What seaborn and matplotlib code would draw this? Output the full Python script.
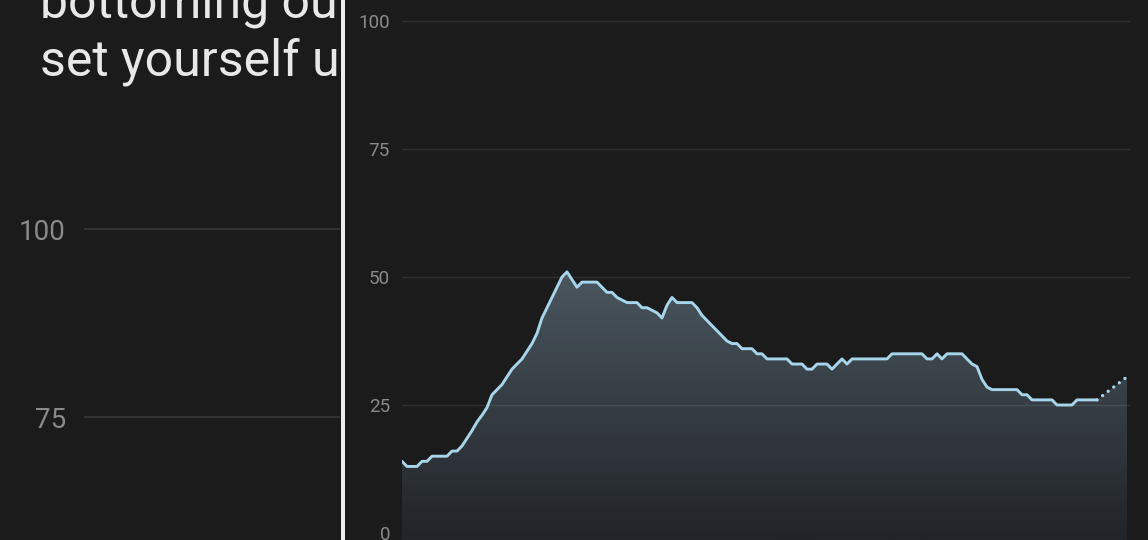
import matplotlib
matplotlib.use("Agg")
import numpy as np
import pandas as pd
import matplotlib.pyplot as plt
from matplotlib.patches import Rectangle
from matplotlib.colors import LinearSegmentedColormap
import seaborn as sns

# ---- data -------------------------------------------------------------
# daily readings (one value per day)
values = [14, 13, 13, 13, 14, 14, 15, 15, 15, 15, 16, 16, 17,
          18.5, 20, 21.7, 23, 24.5, 27, 28, 29, 30.5, 32, 33, 34, 35.5, 37,
          39, 42, 44, 46, 48, 50, 51,
          49.5, 48, 49, 49, 49, 49, 48, 47, 47, 46, 45.5, 45, 45, 45, 44, 44,
          43.5, 43, 42,
          44.5, 46, 45, 45, 45, 45, 44, 42.5, 41.5, 40.5, 39.5, 38.5, 37.5, 37, 37,
          36, 36, 36, 35, 35, 34, 34, 34, 34, 34,
          33, 33, 33, 32, 32, 33, 33, 33, 32, 33, 34, 33, 34, 34, 34, 34, 34, 34,
          34, 34,
          35, 35, 35, 35, 35, 35, 35, 34, 34, 35, 34, 35, 35, 35, 35,
          34, 33, 32.5, 30, 28.5, 28, 28, 28, 28, 28, 28, 27, 27, 26, 26, 26, 26,
          26, 25, 25, 25, 25, 26, 26, 26, 26, 26]
# projected value at the end of the period
projection_day = 145
projection_value = 30.5

right_ticks = [0, 25, 50, 75, 100]
left_ticks = [75, 100]
title_lines = ["bottoming out", "set yourself up"]

# ---- style ------------------------------------------------------------
BG = "#1b1b1b"
LINE = "#a6d5ec"
TICK = "#8a8a8a"

sns.set_theme(style="dark", rc={
    "figure.facecolor": BG,
    "axes.facecolor": BG,
    "savefig.facecolor": BG,
})
plt.rcParams["font.family"] = ["Roboto", "DejaVu Sans"]

W, H = 1148, 540
fig = plt.figure(figsize=(W / 100, H / 100), dpi=100)

def fx(px):
    return px / W

# ---- left (background) panel ------------------------------------------
axl = fig.add_axes([fx(84), 0, fx(340 - 84), 1])
axl.set_facecolor("none")
axl.set_xlim(0, 1)
axl.set_ylim(100 - (540 - 229) / 188 * 25, 100 + 229 / 188 * 25)
axl.set_yticks(left_ticks)
axl.set_yticklabels([str(t) for t in left_ticks])
axl.set_xticks([])
axl.tick_params(axis="y", length=0, pad=13, labelsize=20, labelcolor=TICK)
axl.grid(axis="y", color="#363636", linewidth=1.3)
axl.grid(axis="x", visible=False)
for s in axl.spines.values():
    s.set_visible(False)

for line_text, base_px in zip(title_lines, [18, 76]):
    fig.text(fx(40), 1 - base_px / H, line_text, fontsize=36, fontweight="normal",
             color="#e8e8e8", va="baseline", ha="left", zorder=-3)

# backing of the foreground panel and its white edge
fig.add_artist(Rectangle((fx(345), 0), fx(W - 345), 1, transform=fig.transFigure,
                         facecolor=BG, edgecolor="none", zorder=-2))
fig.add_artist(Rectangle((fx(341), 0), fx(4), 1, transform=fig.transFigure,
                         facecolor="#ededed", edgecolor="none", zorder=5))

# ---- right (foreground) chart -----------------------------------------
ax = fig.add_axes([fx(402), 0, fx(1130 - 402), 1])
ax.set_facecolor("none")
x_max = 145.6
y_lo, y_hi = -7 / 5.12, 533 / 5.12

days = np.arange(len(values))
df = pd.DataFrame({"day": days, "value": values})
proj = pd.DataFrame({"day": [days[-1], projection_day],
                     "value": [values[-1], projection_value]})

# gradient fill under the series (including the projected stretch)
fill_x = np.concatenate([days, [projection_day]])
fill_y = np.concatenate([values, [projection_value]])
poly = ax.fill_between(fill_x, fill_y, y_lo, facecolor="none", edgecolor="none")
cmap = LinearSegmentedColormap.from_list("fade", ["#212428", "#4b5760"])
grad = np.linspace(0, 1, 256).reshape(-1, 1)
im = ax.imshow(grad, cmap=cmap, origin="lower", aspect="auto",
               extent=[0, x_max, y_lo, 52], zorder=1)
im.set_clip_path(poly.get_paths()[0], transform=ax.transData)
ax.set_xlim(0, x_max)
ax.set_ylim(y_lo, y_hi)

ax.set_yticks(right_ticks)
ax.set_yticklabels([str(t) for t in right_ticks])
ax.set_xticks([])
ax.tick_params(axis="y", length=0, pad=8.6, labelsize=13.6, labelcolor=TICK)
ax.grid(False)
for t in right_ticks[1:]:
    ax.axhline(t, color="white", alpha=0.09, linewidth=1.0, zorder=2)
for s in ax.spines.values():
    s.set_visible(False)

sns.lineplot(data=df, x="day", y="value", ax=ax, color=LINE, linewidth=2.1,
             zorder=4, solid_joinstyle="round", solid_capstyle="round")
sns.lineplot(data=proj, x="day", y="value", ax=ax, color=LINE, linewidth=2.4,
             linestyle=(0, (0.01, 2.1)), dash_capstyle="round", zorder=4)
ax.set_xlim(0, x_max)
ax.set_ylim(y_lo, y_hi)
ax.set_xlabel("")
ax.set_ylabel("")

fig.savefig("out.png", dpi=100, facecolor=BG)
